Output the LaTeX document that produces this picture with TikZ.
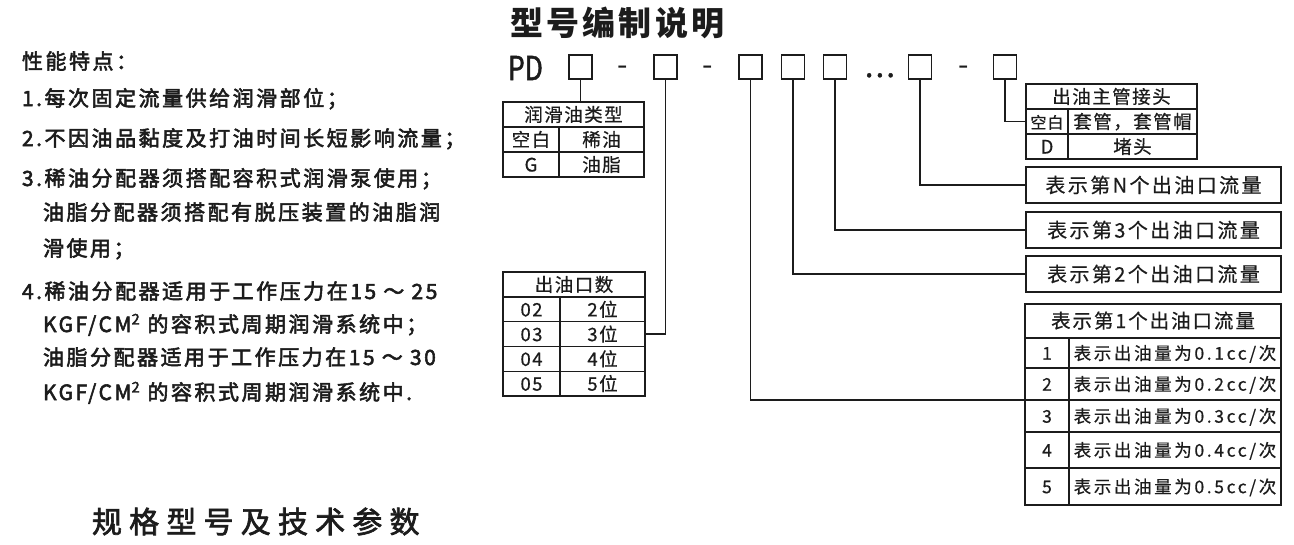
\documentclass[tikz,border=0pt]{standalone}
\usepackage{fontspec}
\setmainfont{Noto Sans CJK SC}
\usetikzlibrary{positioning}
\definecolor{ink}{RGB}{28,28,28}
\newcommand\lsfont[2]{\fontsize{#1}{#1}\selectfont\addfontfeature{LetterSpace=#2}}

\begin{document}
\begin{tikzpicture}[
  x=1pt, y=-1pt,
  every node/.style={inner sep=0pt, outer sep=0pt, text=ink},
  featline/.style={anchor=base west, font=\lsfont{21}{12}\addfontfeature{FakeBold=2.6}},
  codebox/.style={draw=ink, line width=1.3pt, minimum width=23pt, minimum height=24pt},
  cell/.style={draw=ink, line width=1.4pt, anchor=north west, font=\lsfont{18.5}{8}\addfontfeature{FakeBold=0.6}, text height=15.1pt, text depth=1.1pt},
  rowcell/.style={cell, font=\lsfont{17.5}{15}\addfontfeature{FakeBold=0.6}, text height=14.4pt, text depth=1pt},
  flowbox/.style={cell, minimum width=255pt, minimum height=36pt, font=\lsfont{20}{12}\addfontfeature{FakeBold=0.6}, text height=16.4pt, text depth=1.2pt},
  link/.style={draw=ink, line width=1.3pt}
]
\useasboundingbox (0,0) rectangle (1294,544);

  % features, left column
  \node[featline] (feat0) at (22,69) {性能特点：};
  \node[featline] (feat1) at (22,106) {1.每次固定流量供给润滑部位；};
  \node[featline] (feat2) at (22,146) {2.不因油品黏度及打油时间长短影响流量；};
  \node[featline] (feat3) at (22,186) {3.稀油分配器须搭配容积式润滑泵使用；};
  \node[featline] (feat4) at (43,220) {油脂分配器须搭配有脱压装置的油脂润};
  \node[featline] (feat5) at (43,256) {滑使用；};
  \node[featline] (feat6) at (22,299) {4.稀油分配器适用于工作压力在15 ～ 25};
  \node[featline] (feat7) at (43,332) {KGF/CM\textsuperscript{2} 的容积式周期润滑系统中；};
  \node[featline] (feat8) at (43,365) {油脂分配器适用于工作压力在15 ～ 30};
  \node[featline] (feat9) at (43,400) {KGF/CM\textsuperscript{2} 的容积式周期润滑系统中.};

  \node[anchor=west, font=\lsfont{30}{24}\addfontfeature{FakeBold=2.2}] (spec) at (92,521.5) {规格型号及技术参数};

  % model code row
  \node[anchor=west, font=\bfseries\lsfont{33}{10}] (title) at (510,22.5) {型号编制说明};
  \node[anchor=west, font=\lsfont{33}{0}\addfontfeature{FakeStretch=0.8,FakeBold=1.5}] (pd) at (508,68) {PD};
  \node[codebox] (b1) at (580.5,67) {};
  \node[anchor=base, font=\lsfont{30}{0}] (d1) at (623,75) {-};
  \node[codebox] (b2) at (665.5,67) {};
  \node[anchor=base, font=\lsfont{30}{0}] (d2) at (708,75) {-};
  \node[codebox] (b3) at (750.5,67) {};
  \node[codebox] (b4) at (793,67) {};
  \node[codebox] (b5) at (835,67) {};
  \node[anchor=base west, font=\lsfont{30}{8}\addfontfeature{FakeBold=1.5}] (dots) at (865,77) {...};
  \node[codebox] (b6) at (920,67) {};
  \node[anchor=base, font=\lsfont{30}{0}] (d3) at (964,75) {-};
  \node[codebox] (b7) at (1005,67) {};

  % lubricant type
  \node[cell, minimum width=141pt, minimum height=25pt] (oilhdr) at (503,102) {润滑油类型};
  \node[cell, minimum width=56pt, minimum height=25pt] (oilk1) at (oilhdr.south west) {空白};
  \node[cell, minimum width=85pt, minimum height=25pt] (oilv1) at (oilk1.north east) {稀油};
  \node[cell, minimum width=56pt, minimum height=25pt] (oilk2) at (oilk1.south west) {G};
  \node[cell, minimum width=85pt, minimum height=25pt] (oilv2) at (oilk2.north east) {油脂};

  % outlet count
  \node[cell, minimum width=142pt, minimum height=25pt] (porthdr) at (503,272) {出油口数};
  \foreach \n/\v [count=\i] in {02/2,03/3,04/4,05/5} {
    \node[cell, minimum width=57pt, minimum height=24.75pt] (portk\n) at (503,{297+24.75*(\i-1)}) {\n};
    \node[cell, minimum width=85pt, minimum height=24.75pt] (portv\n) at (portk\n.north east) {\v 位};
  }

  % main pipe joint
  \node[cell, minimum width=171pt, minimum height=25pt] (jointhdr) at (1026,84) {出油主管接头};
  \node[cell, minimum width=42pt, minimum height=25pt, font=\lsfont{16}{6}\addfontfeature{FakeBold=0.6}] (jointk1) at (jointhdr.south west) {空白};
  \node[cell, minimum width=129pt, minimum height=25pt] (jointv1) at (jointk1.north east) {套管，套管帽};
  \node[cell, minimum width=42pt, minimum height=25pt] (jointk2) at (jointk1.south west) {D};
  \node[cell, minimum width=129pt, minimum height=25pt] (jointv2) at (jointk2.north east) {堵头};

  % flow boxes
  \node[flowbox] (flowN) at (1026,167) {表示第N个出油口流量};
  \node[flowbox] (flow3) at (1026,212) {表示第3个出油口流量};
  \node[flowbox] (flow2) at (1026,256) {表示第2个出油口流量};

  % first outlet flow
  \node[cell, minimum width=256pt, minimum height=34pt, font=\lsfont{19.5}{10}\addfontfeature{FakeBold=0.6}] (flowhdr) at (1025,304) {表示第1个出油口流量};
  \foreach \n/\top/\h in {1/338/30, 2/368/32, 3/400/32, 4/432/36, 5/468/37} {
    \node[rowcell, minimum width=44pt, minimum height=\h pt] (flowk\n) at (1025,\top) {\n};
    \node[rowcell, minimum width=212pt, minimum height=\h pt] (flowv\n) at (flowk\n.north east) {表示出油量为0.\n cc/次};
  }

  % connectors
  \draw[link] (b1.south) -- (b1.south |- oilhdr.north);
  \draw[link] (b2.south) |- (portv03.east);
  \draw[link] (b3.south) |- (flowk2.south west);
  \draw[link] (b4.south) |- (flow2.west);
  \draw[link] (b5.south) |- (flow3.west);
  \draw[link] (b6.south) |- (flowN.west);
  \draw[link] (b7.south) |- (jointk1.west);

\end{tikzpicture}
\end{document}
